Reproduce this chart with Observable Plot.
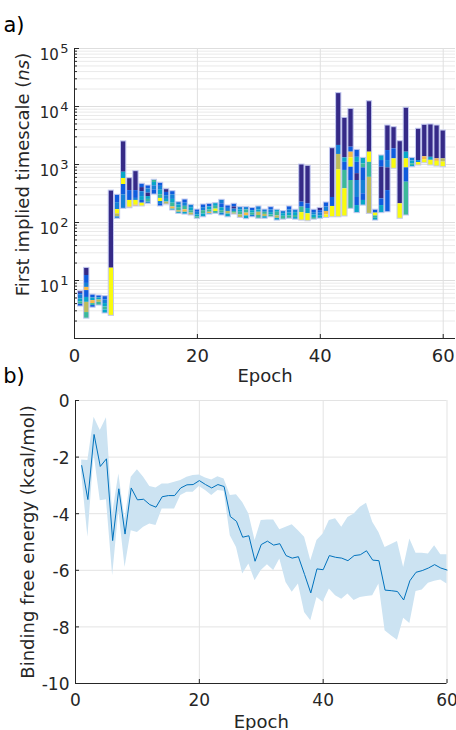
<!DOCTYPE html>
<html><head><meta charset="utf-8">
<script src="https://cdn.jsdelivr.net/npm/d3@7"></script>
<script src="https://cdn.jsdelivr.net/npm/@observablehq/plot@0.6"></script>
<style>
body{margin:0;background:#fff;font-family:"DejaVu Sans",sans-serif;}
#wrap{position:relative;width:456px;height:730px;overflow:hidden;background:#fff;}
#wrap svg{display:block;position:absolute;left:0;}
</style></head><body><div id="wrap"></div><script>
// ---------- data ----------
const epochs = [1,2,3,4,5,6,7,8,9,10,11,12,13,14,15,16,17,18,19,20,21,22,23,24,25,26,27,28,29,30,
  31,32,33,34,35,36,37,38,39,40,41,42,43,44,45,46,47,48,49,50,51,52,53,54,55,56,57,58,59,60];

// stacked timescale segments per epoch: boundaries from top to bottom (ns)
const barStops = [
  [6.5,6.0,5.6,4.8,4.3,3.9,3.56],
  [16.5,12.2,8.9,7.6,6.7,5.1,4.2,2.8,2.2],
  [5.7,5.0,4.5,4.0,3.7,3.4],
  [5.5,5.0,4.6,4.2,3.7],
  [5.35,4.6,4.0,3.5,3.1,2.7],
  [355,16.3,2.46],
  [300,220,167,141,125,116],
  [2500,736,574,452,300,172],
  [580,355,240,185,176],
  [767,355,260,240,200,189],
  [465,400,340,280,240,215,189],
  [434,380,320,280,250,225,210],
  [545,490,430,360,303],
  [483,420,360,300,260,230,205,189],
  [375,330,290,250,225,204],
  [346,300,250,215,185,170,161],
  [224,200,180,160,150,141],
  [249,215,190,165,150,137],
  [202,180,160,145,132],
  [167,150,135,125,116],
  [204,180,160,140,123],
  [210,185,165,150,142,137],
  [215,190,170,155,141],
  [246,210,180,160,145,132],
  [196,175,155,140,123],
  [210,185,170,155,145,137],
  [184,165,150,135,120],
  [184,165,145,130,114],
  [179,160,145,133,123],
  [189,165,150,132,116],
  [167,150,138,126,116],
  [184,165,148,135,123],
  [166,150,130,118,108],
  [157,142,128,112],
  [189,165,145,130,116],
  [166,148,132,122,112],
  [1000,224,184,148,108],
  [950,210,174,141,105],
  [166,148,135,122,112],
  [179,160,145,130,116],
  [221,185,155,135,120],
  [1910,270,189,123],
  [17000,2130,1490,811,123],
  [6380,1300,1090,790,380,127],
  [9100,1990,1630,1300,898,530,172],
  [1790,1330,1090,695,530,270,196,145],
  [1300,1020,875,530,313,240,196],
  [12300,1630,1090,600,141],
  [166,145,130,118,108],
  [1430,1170,898,255,196,145],
  [4700,1740,1170,875,355,150],
  [4400,1865,1250,843],
  [2520,210,116],
  [9500,1630,1250,875,495,132],
  [1300,1150,1030,960,898],
  [4130,1170,1080,960],
  [4840,1360,1210,1050],
  [4900,1330,1180,960],
  [4700,1250,1130,924],
  [3850,1250,1100,898]
];
// colour code of each segment (top to bottom)
const barColors = [
  "NBLCGB","NBLRBCOG","BCRGB","BCOG","BLCGC","NY","BLYOL","NCYBL","NBYR","NBLYR",
  "BNLCBY","BLNCGL","GCLB","BLCGYLB","NBLCO","BLCGRC","LCGOC","BLGRC","LCGO","BLCG",
  "BLGC","BCGRC","CGYG","LBCGL","BLOC","BNLGO","LCGO","LGRC","BCGL","LCOG",
  "LGOC","BLCG","CGOC","LCG","BLCG","LCGC","NBGY","NBCY","BLCG","NBLC",
  "BLRY","NBY","NLOY","NCBGY","NBRYBG","BCBNLBC","CGBLBC","NYGO","BYGC","CBNBC",
  "NBLNB","NBY","NY","NCYBG","LCGC","NLY","NRY","NCY","NRY","NOY"
];
const paletteCodes = ["N","B","L","C","G","O","R","Y"];
const paletteColors = ["#352a87","#0f5cdd","#1481d6","#08a6c8","#3bb99a","#bcbd5c","#f7ba43","#f9fb0e"];

const energyMean = [-2.30,-3.50,-1.20,-2.33,-2.06,-4.95,-3.12,-4.72,-3.09,-3.51,
  -3.49,-3.68,-3.77,-3.40,-3.36,-3.36,-3.09,-2.98,-2.97,-2.83,
  -2.97,-3.09,-2.97,-3.04,-4.10,-4.27,-4.83,-4.78,-5.68,-5.09,
  -4.97,-5.11,-5.06,-5.48,-5.57,-5.52,-6.15,-6.80,-5.95,-5.98,
  -5.48,-5.54,-5.57,-5.66,-5.48,-5.45,-5.31,-5.64,-5.66,-6.70,
  -6.72,-6.75,-7.05,-6.37,-6.07,-6.01,-5.92,-5.80,-5.92,-5.99];
const energyUpper = [-2.10,-2.12,-0.59,-1.06,-0.61,-4.00,-2.60,-4.20,-2.71,-2.45,
  -2.71,-3.04,-3.09,-2.95,-2.95,-2.89,-2.83,-2.71,-2.65,-2.63,
  -2.74,-2.81,-2.69,-2.77,-3.36,-3.33,-3.60,-4.01,-4.95,-4.24,
  -4.22,-4.22,-4.57,-4.48,-4.39,-4.60,-4.83,-5.66,-4.95,-4.72,
  -4.24,-4.18,-4.48,-4.13,-4.01,-3.77,-3.63,-4.30,-4.66,-5.19,
  -5.09,-4.98,-5.90,-4.89,-5.40,-5.40,-5.42,-5.13,-5.45,-5.45];
const energyLower = [-2.60,-4.83,-1.90,-3.54,-3.51,-6.19,-3.90,-5.90,-4.60,-4.66,
  -4.48,-4.36,-4.42,-3.83,-3.83,-3.83,-3.36,-3.24,-3.24,-3.04,
  -3.18,-3.36,-3.18,-3.21,-4.78,-5.19,-6.13,-5.78,-6.37,-6.01,
  -5.80,-6.01,-5.60,-6.43,-6.78,-6.48,-7.49,-7.78,-6.96,-7.13,
  -6.66,-6.90,-7.02,-6.84,-7.07,-6.96,-6.93,-6.90,-6.48,-8.14,
  -8.31,-8.47,-7.69,-7.88,-6.75,-6.70,-6.46,-6.39,-6.34,-6.48];

const xTicks = [0, 20, 40, 60];
const yTicksA = [10, 100, 1000, 10000, 100000];
const decadesA = [1, 10, 100, 1000, 10000];
const minorFactors = [2, 3, 4, 5, 6, 7, 8, 9];
const yTicksB = [-10, -8, -6, -4, -2, 0];

// ---------- derived tables ----------
const segs = [];
epochs.forEach((e, i) => {
  const s = barStops[i], c = barColors[i];
  for (let j = 0; j < s.length - 1; j++) segs.push({epoch: e, top: s[j], bottom: s[j + 1], code: c[j]});
});
const bars = epochs.map((e, i) => ({epoch: e, top: barStops[i][0], bottom: barStops[i][barStops[i].length - 1]}));
const minorA = decadesA.flatMap(d => minorFactors.map(k => d * k));
const energy = epochs.map((e, i) => ({epoch: e, mean: energyMean[i], upper: energyUpper[i], lower: energyLower[i]}));

const ink = "#262626";
const font = "DejaVu Sans";
const wrap = document.getElementById("wrap");

// ---------- panel a ----------
const plotWA = 456 - 74 - 1, plotHA = 385 - 48 - 47;
const svgA = Plot.plot({
  width: 456, height: 385,
  marginLeft: 74, marginRight: 1, marginTop: 48, marginBottom: 47,
  x: {domain: [0, 62]},
  y: {type: "log", domain: [1, 100000]},
  color: {type: "ordinal", domain: paletteCodes, range: paletteColors},
  style: {fontFamily: font, color: ink, background: "transparent", overflow: "visible"},
  marks: [
    Plot.gridY(minorA, {stroke: "#eaeaea", strokeOpacity: 1}),
    Plot.gridY(yTicksA, {stroke: "#dedede", strokeOpacity: 1}),
    Plot.gridX(xTicks.filter(d => d > 0), {stroke: "#e0e0e0", strokeOpacity: 1}),
    Plot.rect(segs, {x1: d => d.epoch - 0.43, x2: d => d.epoch + 0.43, y1: "bottom", y2: "top", fill: "code"}),
    Plot.rect(bars, {x1: d => d.epoch - 0.43, x2: d => d.epoch + 0.43, y1: "bottom", y2: "top", fill: "none", stroke: "#c3c9f0", strokeWidth: 1}),
    Plot.ruleX([0], {stroke: ink}),
    Plot.ruleY([1], {stroke: ink}),
    Plot.tickX(xTicks, {x: d => d, insetTop: plotHA - 4, stroke: ink}),
    Plot.tickY(yTicksA, {y: d => d, insetRight: plotWA - 5, stroke: ink}),
    Plot.tickY(minorA, {y: d => d, insetRight: plotWA - 3, stroke: ink}),
    Plot.axisX(xTicks, {tickSize: 0, tickPadding: 10.5, fontSize: 18, label: null, tickFormat: d => String(d)}),
    Plot.axisY(yTicksA, {tickSize: 0, tickPadding: 6, fontSize: 15, dy: 6.5, label: null,
      tickFormat: d => "10^" + Math.round(Math.log10(d))}),
    Plot.text(["Epoch"], {text: d => d, frameAnchor: "bottom", textAnchor: "middle", lineAnchor: "middle", dy: 38, fontSize: 18, fill: ink}),
    Plot.text(["First implied timescale (ns)"], {text: d => d, frameAnchor: "left", textAnchor: "middle", lineAnchor: "middle",
      dx: -51.5, dy: -19, rotate: -90, fontSize: 18, fill: ink})
  ]
});
svgA.style.top = "0px";
wrap.appendChild(svgA);

// superscript exponents and italic unit
d3.select(svgA).selectAll("text").each(function () {
  const t = this.textContent;
  const m = /^10\^(\d+)$/.exec(t);
  if (m) {
    const s = d3.select(this);
    s.text(null);
    s.append("tspan").text("10");
    s.append("tspan").attr("dx", "1.5px").attr("dy", "-6.5px").attr("font-size", "13px").text(m[1]);
  } else if (t === "First implied timescale (ns)") {
    const s = d3.select(this);
    s.text(null);
    s.append("tspan").text("First implied timescale (");
    s.append("tspan").attr("font-style", "italic").text("ns");
    s.append("tspan").text(")");
  }
});
d3.select(svgA).append("text").attr("x", 14).attr("y", 32).attr("font-size", 21).attr("fill", "#000")
  .attr("font-family", font).text("a)");
d3.select(svgA).append("text").attr("x", 14).attr("y", 383).attr("font-size", 21).attr("fill", "#000")
  .attr("font-family", font).text("b)");

// ---------- panel b ----------
const plotWB = 456 - 75 - 9.5, plotHB = 345 - 15 - 47;
const svgB = Plot.plot({
  width: 456, height: 345,
  marginLeft: 75, marginRight: 9.5, marginTop: 15, marginBottom: 47,
  x: {domain: [0, 60]},
  y: {domain: [-10, 0]},
  style: {fontFamily: font, color: ink, background: "transparent", overflow: "visible"},
  marks: [
    Plot.gridY(yTicksB.filter(d => d > -10), {stroke: "#e3e3e3", strokeOpacity: 1}),
    Plot.gridX(xTicks.filter(d => d > 0), {stroke: "#e3e3e3", strokeOpacity: 1}),
    Plot.areaY(energy, {x: "epoch", y1: "lower", y2: "upper", fill: "#cce3f2"}),
    Plot.lineY(energy, {x: "epoch", y: "mean", stroke: "#0072bd", strokeWidth: 1}),
    Plot.ruleX([0], {stroke: ink}),
    Plot.ruleY([-10], {stroke: ink}),
    Plot.tickX(xTicks, {x: d => d, insetTop: plotHB - 4, stroke: ink}),
    Plot.tickY(yTicksB, {y: d => d, insetRight: plotWB - 4, stroke: ink}),
    Plot.axisX(xTicks, {tickSize: 0, tickPadding: 10.8, fontSize: 17, label: null, tickFormat: d => String(d)}),
    Plot.axisY(yTicksB, {tickSize: 0, tickPadding: 6, fontSize: 17, dy: 1.5, label: null, tickFormat: d => String(d)}),
    Plot.text(["Epoch"], {text: d => d, frameAnchor: "bottom", textAnchor: "middle", lineAnchor: "middle", dy: 39, fontSize: 18, fill: ink}),
    Plot.text(["Binding free energy (kcal/mol)"], {text: d => d, frameAnchor: "left", textAnchor: "middle", lineAnchor: "middle",
      dx: -47.5, dy: 0, rotate: -90, fontSize: 18, fill: ink})
  ]
});
svgB.style.top = "385px";
wrap.appendChild(svgB);
</script></body></html>
